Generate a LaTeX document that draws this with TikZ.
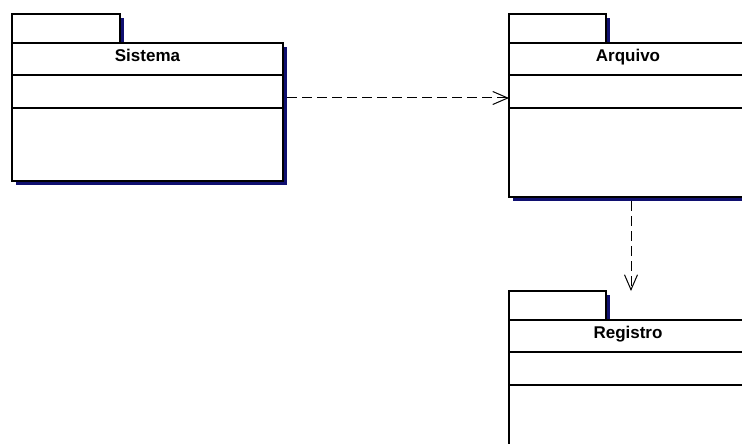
\documentclass[tikz,border=0pt]{standalone}
\usepackage{fontspec}
\setmainfont{Liberation Sans}
\usetikzlibrary{arrows.meta,shadows}
\definecolor{umlnavy}{RGB}{16,16,112}
\begin{document}
\begin{tikzpicture}[x=1pt,y=-1pt,
 pkg/.style={draw,fill=white,line width=1.1pt,inner sep=0pt,outer sep=0pt,
  drop shadow={shadow xshift=4pt,shadow yshift=-4pt,fill=umlnavy,opacity=1}},
 pkgtab/.style={pkg,minimum height=29pt,anchor=north west},
 pkgbody/.style={pkg,anchor=north west},
 pkgname/.style={font=\bfseries\fontsize{17}{19}\selectfont,anchor=base},
 dep/.style={line width=1pt,dash pattern=on 10pt off 5pt,
  -{Straight Barb[length=15pt,width=13pt,line width=1pt]}}]
 \clip (0,0) rectangle (742,444);
 \fill[white] (0,0) rectangle (742,444);
 \node[pkgtab,minimum width=108pt] (sistematab) at (12,14) {};
 \node[pkgbody,minimum width=271pt,minimum height=138pt] (sistema) at (sistematab.south west) {};
 \node[pkgtab,minimum width=97pt] (arquivotab) at (509,14) {};
 \node[pkgbody,minimum width=238pt,minimum height=154pt] (arquivo) at (arquivotab.south west) {};
 \node[pkgtab,minimum width=97pt] (registrotab) at (509,291) {};
 \node[pkgbody,minimum width=238pt,minimum height=160pt] (registro) at (registrotab.south west) {};
 \draw[line width=1.1pt] ([yshift=-32pt]sistema.north west) -- ([yshift=-32pt]sistema.north east);
 \draw[line width=1.1pt] ([yshift=-65pt]sistema.north west) -- ([yshift=-65pt]sistema.north east);
 \draw[line width=1.1pt] ([yshift=-32pt]arquivo.north west) -- ([yshift=-32pt]arquivo.north east);
 \draw[line width=1.1pt] ([yshift=-65pt]arquivo.north west) -- ([yshift=-65pt]arquivo.north east);
 \draw[line width=1.1pt] ([yshift=-32pt]registro.north west) -- ([yshift=-32pt]registro.north east);
 \draw[line width=1.1pt] ([yshift=-65pt]registro.north west) -- ([yshift=-65pt]registro.north east);
 \node[pkgname] (sistemaname) at ([yshift=-19pt]sistema.north) {Sistema};
 \node[pkgname] (arquivoname) at ([yshift=-19pt]arquivo.north) {Arquivo};
 \node[pkgname] (registroname) at ([yshift=-18pt]registro.north) {Registro};
 \draw[dep] ([xshift=4pt,yshift=14pt]sistema.east) -- ([yshift=22pt]arquivo.west);
 \draw[dep] ([xshift=3pt,yshift=-4pt]arquivo.south) -- ([xshift=3pt,yshift=29pt]registro.north);
\end{tikzpicture}
\end{document}
